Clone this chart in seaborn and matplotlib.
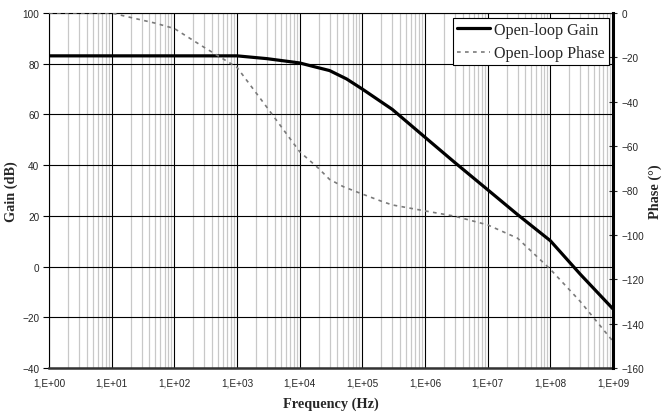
import numpy as np
import pandas as pd
import matplotlib
matplotlib.use("Agg")
import matplotlib.pyplot as plt
from matplotlib.ticker import FixedLocator, FuncFormatter, LogLocator, NullFormatter
import seaborn as sns

# Values
gain_freq = [1, 10, 100, 1e3, 3e3, 1e4, 1.6e4, 3e4, 5.6e4, 1e5, 3e5, 1e6, 3e6, 1e7, 3e7, 1e8, 3e8, 1e9]
gain_db = [83.1, 83.1, 83.1, 83.1, 82, 80.3, 79, 77.3, 74, 70, 62, 51, 41, 30.3, 20.5, 10.2, -3, -16.7]

phase_freq = [1, 10, 20, 50, 100, 300, 1e3, 3e3, 1e4, 2e4, 3e4, 5e4, 1e5, 2e5, 3e5, 1e6,
              3e6, 1e7, 3e7, 1e8, 3e8, 1e9]
phase_deg = [0, 0, -2, -4.6, -7, -15.5, -24.5, -42.5, -62.5, -70, -75, -78.3, -81.6, -84.8,
             -86.5, -89.2, -91.6, -95.5, -101.5, -115.5, -130, -148]

freq_ticks = [1e0, 1e1, 1e2, 1e3, 1e4, 1e5, 1e6, 1e7, 1e8, 1e9]
gain_ticks = [-40, -20, 0, 20, 40, 60, 80, 100]
phase_ticks = [-160, -140, -120, -100, -80, -60, -40, -20, 0]

gain_df = pd.DataFrame({"freq": gain_freq, "gain": gain_db})
phase_df = pd.DataFrame({"freq": phase_freq, "phase": phase_deg})

sns.set_style("white")
plt.rcParams["font.family"] = ["Liberation Sans", "DejaVu Sans"]
serif = ["Liberation Serif", "DejaVu Serif"]

fig = plt.figure(figsize=(6.66, 4.14), dpi=100)
ax = fig.add_axes([49 / 666, 1 - 369 / 414, (613 - 49) / 666, (369 - 14) / 414])

ax.set_xscale("log")
ax.set_xlim(1, 1e9)
ax.set_ylim(-40, 100)

# grid: light minor verticals, dark major lines
ax.xaxis.set_major_locator(FixedLocator(freq_ticks))
ax.xaxis.set_minor_locator(LogLocator(base=10, subs=np.arange(2, 10), numticks=12))
ax.xaxis.set_minor_formatter(NullFormatter())
ax.grid(which="minor", axis="x", color="#c8c8c8", lw=0.9)
ax.grid(which="major", axis="x", color="black", lw=0.8)
ax.grid(which="major", axis="y", color="black", lw=0.8)
ax.set_axisbelow(True)

sns.lineplot(data=gain_df, x="freq", y="gain", ax=ax, color="black", lw=2.3,
             label="Open-loop Gain", legend=False)

ax.yaxis.set_major_locator(FixedLocator(gain_ticks))
ax.xaxis.set_major_formatter(FuncFormatter(lambda v, p: f"1,E+{int(round(np.log10(v))):02d}"))
ax.tick_params(axis="both", which="major", labelsize=7.2, length=4, width=0.8,
               direction="out", color="black", pad=3)
ax.tick_params(axis="x", which="minor", length=0)
ax.set_xlabel("Frequency (Hz)", family=serif, fontweight="bold", fontsize=10.3, labelpad=6)
ax.set_ylabel("Gain (dB)", family=serif, fontweight="bold", fontsize=10.3, labelpad=3)

for side in ["left", "top"]:
    ax.spines[side].set_color("black")
    ax.spines[side].set_linewidth(0.8)
ax.spines["bottom"].set_color("#333333")
ax.spines["bottom"].set_linewidth(1.8)
ax.spines["right"].set_visible(False)

ax2 = ax.twinx()
sns.lineplot(data=phase_df, x="freq", y="phase", ax=ax2, color="#7a7a7a", lw=1.2,
             linestyle=(0, (2.2, 2.6)), label="Open-loop Phase", legend=False)
ax2.set_xlabel("")
ax2.set_ylim(-160, 0)
ax2.yaxis.set_major_locator(FixedLocator(phase_ticks))
ax2.tick_params(axis="y", labelsize=7.2, length=6, width=0.8, direction="inout", pad=3)
ax2.set_ylabel("Phase (°)", family=serif, fontweight="bold", fontsize=10.3,
               rotation=90, labelpad=3)
ax2.grid(False)
for side in ["left", "top", "bottom"]:
    ax2.spines[side].set_visible(False)
ax2.spines["right"].set_color("black")
ax2.spines["right"].set_linewidth(2.2)

h1, l1 = ax.get_legend_handles_labels()
h2, l2 = ax2.get_legend_handles_labels()
leg = ax2.legend(h1 + h2, l1 + l2, loc="upper right", bbox_to_anchor=(0.993, 0.986),
                 frameon=True, fancybox=False, edgecolor="black", framealpha=1,
                 prop={"family": serif, "size": 11.6}, handlelength=2.1,
                 handletextpad=0.25, borderpad=0.25, labelspacing=0.45, borderaxespad=0)
leg.get_frame().set_linewidth(0.8)

fig.savefig("out.png", dpi=100)
